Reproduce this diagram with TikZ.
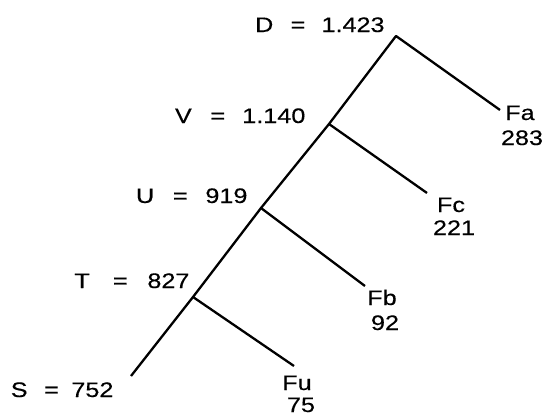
\documentclass[tikz,border=0pt]{standalone}
\usepackage{fontspec}
\setmainfont{Liberation Sans}[FakeStretch=1.2,FakeBold=0.4]
\newcommand\eqlab[4]{#1\hspace{#2pt}=\hspace{#3pt}#4}
\begin{document}
\begin{tikzpicture}[x=1pt,y=-1pt,
  lab/.style={inner sep=0pt,outer sep=0pt,anchor=base west,font=\fontsize{21}{24}\selectfont},
  leaf/.style={inner sep=0pt,outer sep=0pt,anchor=base,font=\fontsize{21}{24}\selectfont},
  branch/.style={line width=2.3pt,line join=round}]
\useasboundingbox (0,0) rectangle (546,415);
% junctions and ends
\coordinate (D) at (396,36);
\coordinate (V) at (329,124);
\coordinate (U) at (261,208);
\coordinate (T) at (193,297);
\coordinate (S) at (131,376);
\coordinate (Fa) at (500,110);
\coordinate (Fc) at (427,193);
\coordinate (Fb) at (365,286);
\coordinate (Fu) at (294,366);
% connectors
\draw[branch] (S) -- (T) -- (U) -- (V) -- (D) -- (Fa);
\draw[branch] (V) -- (Fc);
\draw[branch] (U) -- (Fb);
\draw[branch] (T) -- (Fu);
% left labels
\node[lab] (Dl) at (255.1,32) {\eqlab{D}{17.4}{16.1}{1.423}};
\node[lab] (Vl) at (175,123) {\eqlab{V}{18.7}{17.1}{1.140}};
\node[lab] (Ul) at (136,203) {\eqlab{U}{18.8}{17.7}{919}};
\node[lab] (Tl) at (74.4,288) {\eqlab{T}{23.2}{19.7}{827}};
\node[lab] (Sl) at (10.8,397) {\eqlab{S}{16.6}{12.5}{752}};
% leaf labels
\node[leaf] (Fan) at (520,120) {Fa};
\node[leaf] (Fav) at (522,145) {283};
\node[leaf] (Fcn) at (451,212) {Fc};
\node[leaf] (Fcv) at (454,235) {221};
\node[leaf] (Fbn) at (382,305) {Fb};
\node[leaf] (Fbv) at (385,330) {92};
\node[leaf] (Fun) at (297,390) {Fu};
\node[leaf] (Fuv) at (301,412) {75};
\end{tikzpicture}
\end{document}
